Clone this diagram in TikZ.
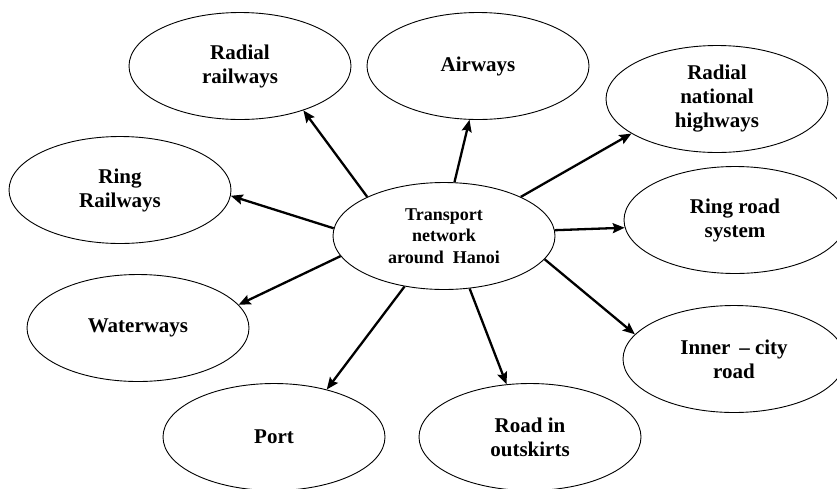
\documentclass[tikz,border=0pt]{standalone}
\usepackage{fontspec}
\setmainfont{Liberation Serif}
\usetikzlibrary{shapes.geometric,arrows.meta}
\tikzset{
	bub/.style={draw, ellipse, line width=0.9pt, minimum width=222pt, minimum height=107pt,
		inner sep=0pt, align=center, font=\fontsize{21}{24}\selectfont\bfseries},
	link/.style={line width=2.3pt, -{Stealth[length=12pt,width=10pt,inset=2pt]}}
}
\begin{document}
\begin{tikzpicture}[x=1pt,y=-1pt]
	\useasboundingbox (0,0) rectangle (837,488);
	\node[bub, font=\fontsize{18}{21.5}\selectfont\bfseries] (hub) at (444,236) {Transport\\network\\around~ Hanoi};
	
	\node[bub] (radrail) at (240,66) {Radial\\railways};
	\node[bub] (air) at (478,66) {Airways};
	\node[bub] (radhwy) at (717,99) {Radial\\national\\highways};
	\node[bub] (ringrail) at (120,190) {Ring\\Railways};
	\node[bub] (ringroad) at (735,220) {Ring road\\system};
	\node[bub] (water) at (138,328) {Waterways};
	\node[bub] (inner) at (734,359) {Inner \,-- city\\road};
	\node[bub] (port) at (274,437) {Port};
	\node[bub] (outsk) at (530,437) {Road in\\outskirts};
	
	\draw[link] (hub.153) -- (radrail.-35);
	\draw[link] (hub.79) -- (air.261);
	\draw[link] (hub.27.5) -- (radhwy.202);
	\draw[link] (hub.3.6) -- (ringroad.184.6);
	\draw[link] (hub.-13.6) -- (inner.166.7);
	\draw[link] (hub.-64.3) -- (outsk.114.8);
	\draw[link] (hub.232) -- (port.42);
	\draw[link] (hub.191.8) -- (water.13.7);
	\draw[link] (hub.176.4) -- (ringrail.-3.6);
\end{tikzpicture}
\end{document}
